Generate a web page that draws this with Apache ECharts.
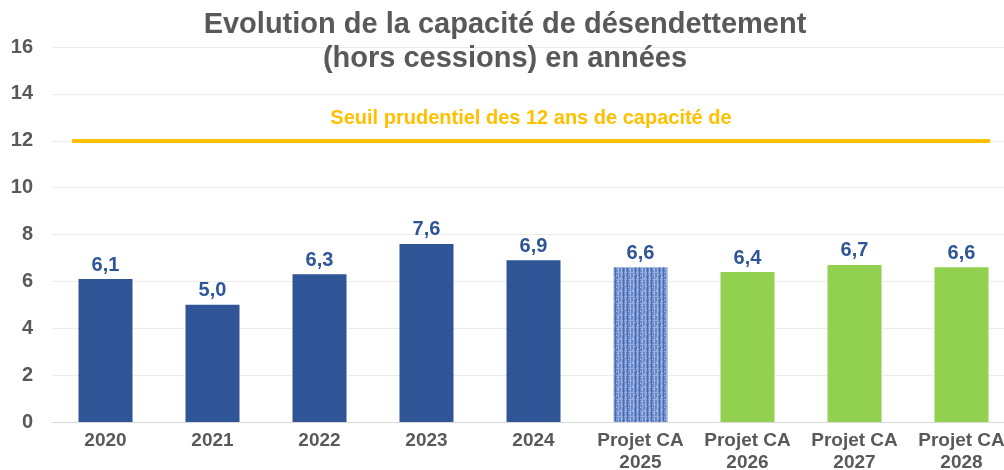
<!DOCTYPE html>
<html>
<head>
<meta charset="utf-8">
<script src="https://cdn.jsdelivr.net/npm/echarts@6/dist/echarts.min.js"></script>
<style>
  html, body { margin: 0; padding: 0; background: #fff; }
  #main { width: 1004px; height: 470px; }
</style>
</head>
<body>
<div id="main"></div>
<script>
// données
const categories = ["2020", "2021", "2022", "2023", "2024",
    "Projet CA\n2025", "Projet CA\n2026", "Projet CA\n2027", "Projet CA\n2028"];
const values = [6.1, 5.0, 6.3, 7.6, 6.9, 6.6, 6.4, 6.7, 6.6];
const seuil = 12;
const seuilLabel = "Seuil prudentiel des 12 ans de capacité de";
const yTicks = { min: 0, max: 16, interval: 2 };

// motif texturé pour la barre 2025
const makePattern = () => {
    const c = document.createElement("canvas");
    c.width = 12;
    c.height = 12;
    const ctx = c.getContext("2d");
    ctx.fillStyle = "#6787c9";
    ctx.fillRect(0, 0, 12, 12);
    ctx.fillStyle = "#9fb4e0";
    [1, 6, 9].forEach((x) => ctx.fillRect(x, 0, 1, 12));
    ctx.fillStyle = "#90a8db";
    [3, 8].forEach((y) => ctx.fillRect(0, y, 12, 1));
    ctx.fillStyle = "#4b6db3";
    [3, 11].forEach((x) => ctx.fillRect(x, 0, 1, 12));
    ctx.fillStyle = "#b8c9ea";
    [[2, 1], [5, 5], [10, 10], [4, 11], [8, 2]].forEach(([x, y]) => ctx.fillRect(x, y, 1, 1));
    return c;
};

const pattern = { image: makePattern(), repeat: "repeat" };

const barColor = (i) => {
    if (i < 5) return "#2f5597";
    if (i === 5) return pattern;
    return "#92d050";
};

const chart = echarts.init(document.getElementById("main"));
chart.setOption({
    animation: false,
    title: {
        text: "Evolution de la capacité de désendettement\n(hors cessions) en années",
        left: 500,
        textAlign: "center",
        top: 3,
        textStyle: {
            fontFamily: "Liberation Sans",
            fontSize: 29,
            fontWeight: "bold",
            color: "#595959",
            lineHeight: 34,
        },
    },
    grid: { left: 52, right: -11, top: 47, bottom: 48, outerBoundsMode: "none", containLabel: false },
    xAxis: {
        type: "category",
        data: categories,
        axisTick: { show: false },
        axisLine: { lineStyle: { color: "#d9d9d9", width: 1 } },
        axisLabel: {
            interval: 0,
            margin: 8,
            fontFamily: "Liberation Sans",
            fontSize: 19,
            fontWeight: "bold",
            color: "#595959",
            lineHeight: 22,
        },
    },
    yAxis: {
        type: "value",
        min: yTicks.min,
        max: yTicks.max,
        interval: yTicks.interval,
        axisLine: { show: false },
        axisTick: { show: false },
        splitLine: { lineStyle: { color: "#ececec", width: 1 } },
        axisLabel: {
            margin: 19,
            fontFamily: "Liberation Sans",
            fontSize: 20,
            fontWeight: "bold",
            color: "#595959",
        },
    },
    series: [
        {
            type: "bar",
            barWidth: 54,
            data: values.map((v, i) => ({
                value: v,
                itemStyle: { color: barColor(i) },
            })),
            label: {
                show: true,
                position: "top",
                distance: 4,
                fontFamily: "Liberation Sans",
                fontSize: 20,
                fontWeight: "bold",
                color: "#2f5597",
                formatter: (p) => p.value.toFixed(1).replace(".", ","),
            },
            markLine: {
                silent: true,
                symbol: "none",
                lineStyle: { color: "#ffc000", width: 4, type: "solid" },
                label: {
                    show: true,
                    position: "middle",
                    distance: 12,
                    formatter: seuilLabel,
                    fontFamily: "Liberation Sans",
                    fontSize: 20,
                    fontWeight: "bold",
                    color: "#ffc000",
                },
                data: [[{ yAxis: seuil, x: 72 }, { yAxis: seuil, x: 990 }]],
            },
        },
    ],
});
</script>
</body>
</html>
